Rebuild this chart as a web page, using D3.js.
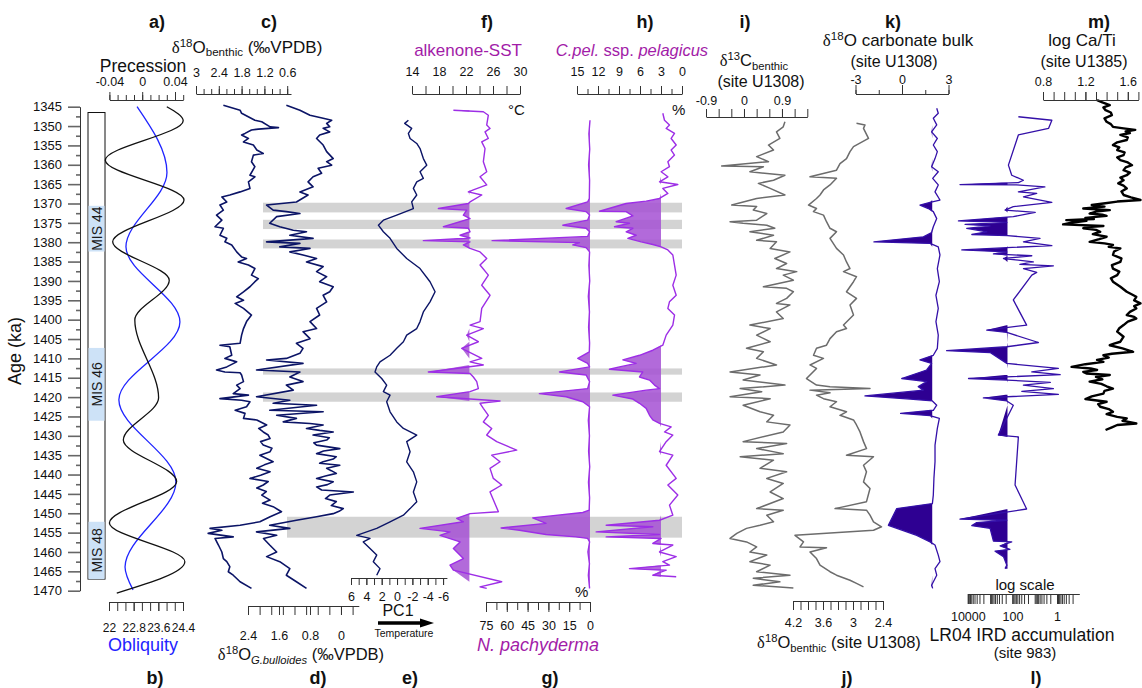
<!DOCTYPE html>
<html>
<head>
<meta charset="utf-8">
<script src="https://cdn.jsdelivr.net/npm/d3@7"></script>
<style>
  body { margin: 0; background: #fff; }
  svg { display: block; }
  text { font-family: "Liberation Sans", Arial, sans-serif; }
</style>
</head>
<body>
<svg id="chart" width="1142" height="688"></svg>
<script>
// ---------- records: [age (ka), value] ----------
const precession = [[1345,0.030],[1348.6,0.050],[1358.8,-0.045],[1369.1,0.051],[1379.9,-0.036],[1389.8,0.033],[1400.1,-0.009],[1420.2,0.020],[1431.1,-0.023],[1441.8,0.042],[1452.5,-0.040],[1462.5,0.052],[1470.6,-0.031]];
const obliquity = [[1345,22.91],[1362.0,23.88],[1381.2,22.55],[1400.6,24.30],[1420.7,22.32],[1441.9,24.17],[1463.9,22.52],[1469.8,22.78]];

const benthicD18O = [[1344.6,2.28],[1345.9,1.84],[1346.7,1.80],[1348.5,1.45],[1348.9,1.27],[1350.2,1.05],[1350.4,0.83],[1350.6,1.10],[1350.8,1.36],[1351.0,1.54],[1351.9,1.71],[1352.3,1.80],[1353.2,1.62],[1354.1,1.75],[1354.9,1.49],[1356.2,1.40],[1357.1,1.23],[1357.5,1.49],[1359.2,1.54],[1360.5,1.45],[1362.7,1.58],[1363.1,1.45],[1364.4,1.62],[1366.1,1.58],[1367.0,1.84],[1367.8,2.11],[1368.3,2.32],[1369.6,2.19],[1370.4,2.37],[1371.7,2.28],[1373.0,2.46],[1374.3,2.32],[1376.0,2.50],[1376.4,2.28],[1378.2,2.37],[1379.0,2.19],[1379.9,2.24],[1380.7,2.06],[1382.5,1.93],[1383.8,1.80],[1384.2,1.67],[1385.1,1.89],[1385.9,1.62],[1386.8,1.45],[1388.5,1.54],[1389.4,1.36],[1390.2,1.45],[1391.5,1.58],[1392.8,1.75],[1394.1,1.93],[1395.0,1.75],[1395.8,1.97],[1397.1,1.75],[1398.8,1.54],[1400.5,1.67],[1402.3,1.75],[1404.0,1.80],[1406.1,1.84],[1406.6,2.37],[1407.0,2.11],[1409.2,2.06],[1410.0,2.24],[1410.9,1.93],[1412.2,2.19],[1413.0,2.46],[1413.5,2.24],[1413.7,1.84],[1414.3,1.80],[1416.0,1.75],[1416.9,1.93],[1417.8,1.84],[1419.1,2.02],[1419.5,1.62],[1420.4,2.37],[1420.8,1.80],[1421.2,1.58],[1422.5,1.67],[1423.4,1.97],[1424.2,1.71],[1425.5,1.75],[1425.9,1.40],[1427.2,1.14],[1428.1,1.35],[1429.0,1.23],[1429.8,1.10],[1430.7,1.05],[1431.5,1.30],[1432.4,1.23],[1433.2,1.00],[1434.1,1.05],[1435.0,1.32],[1436.7,0.97],[1437.5,1.20],[1438.4,1.40],[1439.3,1.05],[1440.2,1.30],[1441.0,1.58],[1441.8,1.10],[1442.7,1.23],[1443.5,1.40],[1444.4,1.15],[1445.3,1.27],[1446.6,1.05],[1447.4,1.25],[1448.3,0.97],[1449.6,0.75],[1450.9,1.05],[1452.2,1.32],[1453.1,1.84],[1453.9,2.63],[1454.4,2.32],[1455.2,2.68],[1456.1,2.02],[1456.5,2.50],[1458.2,2.41],[1460.0,2.32],[1461.7,2.28],[1462.5,2.19],[1463.8,2.11],[1465.1,2.15],[1466.0,2.02],[1467.7,1.84],[1469.4,1.54]];

const bulloidesD18O = [[1344.6,1.41],[1345.9,1.06],[1347.2,0.80],[1348.0,0.46],[1348.5,0.24],[1349.3,0.37],[1350.2,0.29],[1350.6,0.46],[1351.5,0.29],[1352.3,0.55],[1353.2,0.63],[1354.9,0.46],[1356.6,0.37],[1358.4,0.20],[1359.2,0.37],[1360.1,0.24],[1360.9,0.59],[1362.2,0.50],[1363.1,0.72],[1364.4,0.85],[1365.7,0.72],[1367.0,1.06],[1367.8,0.85],[1369.6,1.15],[1370.4,1.92],[1371.7,1.75],[1372.1,1.41],[1372.6,1.06],[1373.4,1.66],[1375.1,1.84],[1376.0,1.58],[1376.9,1.23],[1377.3,0.89],[1378.2,1.32],[1379.0,0.72],[1379.9,1.92],[1380.3,1.06],[1381.2,1.58],[1381.6,0.80],[1382.5,1.32],[1383.3,0.98],[1384.2,0.63],[1385.1,0.89],[1386.3,0.46],[1387.6,0.63],[1388.9,0.37],[1390.2,0.55],[1391.5,0.20],[1392.8,0.29],[1393.7,0.46],[1395.4,0.37],[1397.1,0.63],[1398.8,0.55],[1400.5,0.80],[1402.3,0.63],[1403.1,0.98],[1404.9,0.80],[1406.1,1.15],[1407.4,0.98],[1408.7,1.06],[1410.0,1.41],[1410.4,1.92],[1411.3,0.98],[1413.0,2.18],[1413.5,1.06],[1414.8,1.32],[1416.0,0.98],[1416.9,1.41],[1418.2,1.23],[1419.9,2.18],[1420.8,1.32],[1421.6,1.75],[1422.1,0.63],[1423.4,1.84],[1423.8,0.46],[1424.7,1.66],[1425.5,1.15],[1426.4,1.49],[1426.8,0.80],[1427.2,0.46],[1428.1,0.89],[1428.6,0.55],[1429.0,0.20],[1429.8,0.72],[1430.5,0.30],[1431.1,0.37],[1431.8,0.70],[1432.4,0.63],[1433.3,0.03],[1433.9,0.45],[1434.6,0.63],[1435.4,0.12],[1436.0,0.20],[1436.7,0.46],[1437.1,0.55],[1437.6,0.03],[1438.4,0.37],[1439.0,0.25],[1439.7,0.12],[1440.4,0.40],[1441.0,0.63],[1441.9,0.20],[1442.6,0.35],[1443.2,0.63],[1444.0,0.50],[1444.5,-0.32],[1445.3,0.29],[1446.2,0.40],[1447.0,0.12],[1448.0,0.25],[1448.8,-0.06],[1449.5,0.05],[1450.1,0.20],[1450.9,0.63],[1451.8,1.15],[1453.1,1.84],[1453.9,1.32],[1454.8,2.18],[1455.7,1.66],[1456.5,2.00],[1458.2,1.84],[1460.0,1.66],[1461.2,1.92],[1462.5,1.58],[1464.3,1.32],[1466.0,1.41],[1467.7,1.15],[1469.4,0.89]];

const pc1 = [[1348.5,-1.48],[1349.3,-1.00],[1350.6,-1.91],[1351.9,-1.48],[1353.2,-1.70],[1354.5,-2.57],[1355.8,-3.00],[1358.4,-3.43],[1360.1,-3.87],[1361.8,-3.00],[1363.5,-3.43],[1364.4,-2.57],[1366.1,-2.13],[1367.8,-2.57],[1369.6,-1.91],[1371.3,-2.13],[1373.0,0.04],[1374.3,1.78],[1375.6,2.43],[1377.3,1.78],[1379.0,0.91],[1381.6,0.04],[1384.2,-1.26],[1386.8,-3.00],[1390.2,-4.30],[1392.8,-4.96],[1395.4,-4.30],[1398.0,-3.43],[1400.5,-3.00],[1402.3,-2.57],[1404.0,-1.26],[1405.7,-0.83],[1407.4,0.04],[1409.2,0.91],[1410.9,2.22],[1412.2,2.65],[1413.5,2.87],[1415.2,2.00],[1416.9,1.35],[1418.6,1.78],[1419.5,0.91],[1421.2,1.35],[1423.8,0.91],[1426.4,0.04],[1428.1,-0.83],[1429.8,-2.57],[1431.5,-1.26],[1434.1,-1.70],[1436.7,-1.26],[1439.3,-2.13],[1441.9,-2.57],[1444.5,-2.13],[1447.0,-2.57],[1448.8,-1.70],[1450.5,-0.83],[1452.2,0.91],[1453.9,2.65],[1455.7,5.26],[1456.5,3.52],[1457.4,4.40],[1459.1,3.52],[1460.8,2.65],[1462.5,3.09],[1464.3,2.22],[1466.0,2.65]];

const alkenoneSST = [[1345.9,20.13],[1346.3,24.57],[1347.2,25.31],[1349.7,25.07],[1350.6,25.56],[1351.5,24.82],[1353.2,25.31],[1354.1,24.33],[1355.8,24.82],[1359.2,24.57],[1361.8,25.07],[1363.1,24.08],[1365.2,25.07],[1366.5,23.09],[1367.0,22.35],[1367.8,24.33],[1369.6,22.60],[1370.0,22.35],[1371.3,17.91],[1371.7,22.10],[1373.0,21.61],[1373.9,22.60],[1376.0,18.65],[1376.4,22.35],[1377.3,22.60],[1378.2,21.12],[1378.9,22.60],[1379.6,15.68],[1379.9,22.60],[1380.7,21.61],[1381.6,22.60],[1382.5,24.08],[1384.2,25.07],[1385.9,24.08],[1388.5,25.31],[1391.1,24.33],[1393.7,25.56],[1397.1,24.33],[1400.5,24.08],[1401.4,22.60],[1402.3,24.57],[1404.0,22.10],[1405.7,23.83],[1407.4,21.36],[1410.0,24.33],[1410.9,22.60],[1411.7,24.57],[1413.5,16.42],[1413.9,22.60],[1414.8,23.09],[1416.0,23.59],[1417.8,23.83],[1418.6,22.60],[1419.9,17.66],[1421.0,27.04],[1421.6,24.08],[1422.9,24.57],[1424.7,25.31],[1426.4,24.57],[1428.1,25.81],[1429.8,25.07],[1431.5,26.55],[1433.7,29.51],[1435.0,25.81],[1436.7,27.04],[1438.4,25.56],[1441.0,26.05],[1442.7,27.29],[1444.5,25.56],[1449.6,26.80],[1450.1,22.60],[1451.3,20.62],[1452.2,21.61],[1453.9,15.19],[1454.8,19.63],[1455.7,18.15],[1457.4,21.12],[1459.1,20.13],[1461.7,21.61],[1463.4,19.63],[1464.7,20.13],[1467.7,27.29],[1469.0,24.08],[1469.4,25.07]];

const pachyderma = [[1348.5,0],[1352,0.8],[1356,0.2],[1360,1.0],[1364,0.3],[1368.7,0.5],[1369.6,1.7],[1371.3,17.2],[1372.1,2.8],[1373.0,0.3],[1374.3,1.7],[1375.6,19.6],[1376.4,2.8],[1377.3,0.3],[1378.5,1.7],[1379.6,70.6],[1380.1,7.6],[1380.7,12.4],[1381.4,2.8],[1382.5,0.3],[1386,0.8],[1390,0.2],[1394,1.2],[1398,0.4],[1402,1.0],[1406,0.3],[1408.3,0.5],[1410.0,8.8],[1411.3,1.7],[1412.2,0.3],[1413.5,22.0],[1414.3,2.8],[1416.0,0.3],[1417.8,1.7],[1419.1,36.5],[1419.9,17.2],[1421.2,5.2],[1422.5,0.3],[1426,1.2],[1430,0.4],[1434,1.0],[1438,0.2],[1442,1.1],[1446,0.3],[1449.2,0.6],[1449.8,5.2],[1451.2,41.3],[1452.6,31.7],[1453.8,64.1],[1454.4,50.9],[1455.5,31.7],[1456.1,10.1],[1456.5,1.7],[1457.4,0.3],[1460,1.5],[1463,0.4],[1466,1.2],[1469.4,0.3]];

const pelagicus = [[1346.7,2.74],[1348.5,2.50],[1349.7,1.79],[1350.6,2.26],[1351.9,1.07],[1353.2,1.55],[1354.9,0.83],[1356.2,1.55],[1357.5,1.07],[1359.2,2.02],[1360.5,1.79],[1361.8,2.98],[1363.1,2.02],[1364.4,3.21],[1365.1,0.60],[1366.1,2.74],[1367.4,2.02],[1368.7,3.21],[1369.4,5.12],[1370.0,7.98],[1372.0,11.79],[1372.1,7.98],[1373.2,7.02],[1374.7,9.40],[1375.1,7.50],[1376.0,9.64],[1376.4,7.02],[1377.3,7.98],[1378.2,6.55],[1379.0,7.74],[1379.9,5.83],[1380.6,4.17],[1381.2,2.98],[1382.0,2.02],[1383.3,1.31],[1385.9,1.07],[1388.5,0.83],[1391.1,1.31],[1393.7,0.83],[1395.4,1.79],[1397.1,2.02],[1398.8,1.07],[1401.4,1.31],[1404.0,2.26],[1406.6,2.74],[1407.9,4.17],[1409.2,6.07],[1410.4,8.45],[1411.3,6.55],[1412.2,8.93],[1412.8,10.36],[1413.5,5.60],[1414.8,6.07],[1415.6,4.64],[1416.9,3.93],[1417.8,3.21],[1418.2,5.12],[1419.5,9.88],[1420.5,7.02],[1421.6,6.07],[1422.9,5.12],[1424.7,4.64],[1425.9,4.17],[1426.8,3.21],[1427.7,1.55],[1429.0,2.50],[1429.8,1.31],[1431.5,2.26],[1434.1,3.21],[1435.0,1.31],[1437.6,2.26],[1441.0,0.83],[1442.7,2.02],[1445.3,0.60],[1447.9,1.79],[1450.5,1.31],[1451.8,3.21],[1453.1,10.83],[1453.5,4.17],[1454.8,12.26],[1455.5,3.21],[1456.1,10.83],[1456.5,2.98],[1457.8,4.17],[1458.2,1.31],[1460.0,3.21],[1461.2,0.83],[1462.5,2.74],[1463.4,1.79],[1464.3,7.50],[1464.7,2.26],[1466.0,4.17],[1466.4,0.83]];

const benthicD13C_U1308 = [[1348.9,0.97],[1350.2,0.93],[1351.5,0.77],[1353.2,0.85],[1354.9,0.58],[1356.2,0.70],[1357.9,0.30],[1359.2,0.58],[1360.3,-0.53],[1360.5,0.46],[1361.8,0.14],[1362.7,0.97],[1364.0,0.70],[1364.8,0.34],[1366.1,0.62],[1367.8,0.97],[1368.7,0.30],[1370.4,-0.29],[1370.8,0.30],[1371.7,0.22],[1372.6,0.54],[1374.3,0.30],[1374.7,-0.33],[1375.1,-0.02],[1375.6,0.54],[1376.4,0.73],[1377.3,0.14],[1378.2,0.70],[1379.5,0.30],[1379.9,0.77],[1381.6,0.62],[1382.5,1.09],[1384.2,0.73],[1385.5,1.01],[1386.8,0.77],[1387.6,1.25],[1388.5,0.93],[1389.8,1.17],[1391.5,0.46],[1391.9,1.01],[1392.8,1.17],[1394.5,1.01],[1395.8,0.77],[1396.2,1.09],[1398.0,0.77],[1399.7,0.93],[1401.4,0.14],[1402.3,0.62],[1404.0,0.30],[1405.7,0.62],[1407.4,0.06],[1408.3,0.46],[1410.0,0.30],[1411.7,0.77],[1413.5,-0.33],[1414.3,0.38],[1415.6,-0.02],[1416.9,0.97],[1417.8,-0.09],[1418.6,0.42],[1419.9,-0.33],[1420.4,0.62],[1422.1,-0.02],[1423.8,0.38],[1424.7,0.70],[1426.4,0.54],[1427.2,1.09],[1429.0,0.93],[1431.5,-0.02],[1432.0,1.01],[1433.3,0.30],[1434.6,0.93],[1435.4,-0.09],[1436.3,0.70],[1438.4,0.38],[1439.3,1.01],[1441.0,0.54],[1442.3,0.93],[1444.5,0.62],[1446.2,0.93],[1448.8,0.30],[1449.2,0.93],[1450.5,0.54],[1452.2,0.70],[1453.1,0.38],[1453.9,0.06],[1455.2,-0.17],[1456.5,-0.33],[1457.4,0.06],[1458.7,0.30],[1460.0,0.14],[1460.8,0.54],[1462.5,0.14],[1463.4,0.62],[1465.1,0.30],[1466.0,1.09],[1466.8,0.22],[1467.7,0.85],[1468.6,0.22],[1469.3,1.17]];

const benthicD18O_U1308 = [[1349.3,2.93],[1349.7,2.76],[1350.6,2.79],[1353.2,2.69],[1355.3,2.99],[1356.6,3.06],[1358.4,3.13],[1359.7,3.26],[1361.4,3.33],[1363.1,3.86],[1363.5,3.33],[1365.2,3.46],[1366.5,3.59],[1367.8,3.66],[1368.7,3.73],[1370.4,3.89],[1371.3,3.73],[1372.1,3.79],[1373.0,3.59],[1374.7,3.53],[1376.4,3.46],[1377.3,3.33],[1379.0,3.46],[1381.6,3.33],[1383.3,3.19],[1385.1,3.13],[1386.8,3.06],[1387.6,3.19],[1388.9,2.93],[1390.2,2.99],[1392.8,3.13],[1394.5,2.93],[1396.2,3.06],[1398.8,2.99],[1401.4,3.19],[1402.3,3.13],[1403.1,3.33],[1404.9,3.46],[1406.6,3.53],[1407.4,3.73],[1409.2,3.79],[1410.0,3.59],[1411.7,3.86],[1412.6,3.73],[1415.2,3.93],[1416.9,3.73],[1417.3,3.46],[1417.8,2.66],[1418.2,3.86],[1418.9,3.46],[1419.5,3.73],[1420.4,3.59],[1421.2,3.33],[1422.5,3.46],[1423.8,3.13],[1424.7,3.26],[1425.9,2.99],[1427.2,2.93],[1429.0,2.86],[1431.5,2.79],[1433.3,2.73],[1435.0,3.13],[1435.4,2.59],[1437.6,2.79],[1439.3,2.73],[1441.9,2.79],[1443.6,2.66],[1447.0,2.73],[1448.8,3.36],[1449.2,2.73],[1450.5,2.66],[1452.2,2.59],[1453.5,2.43],[1454.4,2.59],[1455.7,4.16],[1457.4,3.99],[1458.7,4.06],[1458.9,3.53],[1460.0,3.86],[1461.7,3.73],[1463.4,3.66],[1465.1,3.46],[1466.0,3.33],[1467.3,3.06],[1468.1,2.93],[1469.0,2.79]];

const bulkD18O_U1308 = [[1345.4,2.24],[1346.7,2.34],[1348.0,2.02],[1349.7,2.24],[1351.5,1.91],[1353.2,2.28],[1354.9,2.02],[1356.6,2.28],[1358.4,2.13],[1360.5,1.91],[1361.8,2.34],[1363.5,1.98],[1365.2,2.34],[1367.0,2.13],[1369.1,2.45],[1369.7,1.81],[1370.4,1.16],[1371.3,1.70],[1372.1,2.02],[1373.9,2.24],[1376.0,2.02],[1377.5,1.91],[1378.6,1.38],[1379.9,-1.81],[1380.3,1.81],[1381.2,2.34],[1383.3,2.45],[1386.8,2.28],[1390.2,2.41],[1393.7,2.19],[1397.1,2.34],[1400.5,2.19],[1404.0,2.34],[1407.4,2.28],[1409.2,2.02],[1410.4,1.16],[1411.3,1.91],[1413.0,1.59],[1415.2,-0.02],[1416.0,1.59],[1417.3,1.05],[1418.2,1.38],[1419.7,-2.39],[1420.5,0.52],[1421.0,1.96],[1422.1,2.24],[1423.4,2.02],[1424.2,-0.09],[1424.8,1.81],[1425.5,2.41],[1428.1,2.28],[1432.4,2.13],[1436.7,2.13],[1441.0,2.06],[1445.3,2.02],[1447.5,1.96],[1448.8,-0.34],[1453.1,-0.88],[1455.7,0.95],[1457.4,1.81],[1458.2,2.13],[1460.8,2.34],[1462.5,2.45],[1464.3,2.13],[1466.0,2.24],[1468.6,1.91],[1469.4,1.98]];

const irdAccumulation = [[1347.6,54],[1348.5,1.7],[1350.6,2.4],[1352.3,54],[1360.1,151],[1362.7,107],[1364.0,32],[1364.6,54],[1365.1,22400],[1365.2,65],[1365.7,3.5],[1367.0,54],[1367.4,8.1],[1368.3,32],[1369.7,1.7],[1370.8,91],[1371.7,214],[1372.3,9.5],[1373.4,91],[1374.5,26300],[1374.9,178],[1375.4,13200],[1375.8,1000],[1376.4,11200],[1377.3,1410],[1378.0,6600],[1378.3,166],[1379.0,5.8],[1379.9,32],[1380.9,1.7],[1381.4,178],[1382.0,18600],[1382.5,178],[1383.0,708],[1383.5,13.5],[1384.2,251],[1385.1,11.5],[1385.7,46],[1386.1,1.45],[1386.8,32],[1387.8,8.1],[1388.5,13.5],[1394.9,91],[1401.4,23],[1402.7,1410],[1403.3,178],[1405.9,6.8],[1407.0,178],[1408.0,89000],[1408.5,1000],[1411.3,178],[1412.6,0.87],[1413.5,13.5],[1414.2,0.72],[1415.2,9300],[1415.6,178],[1416.2,2.0],[1416.9,32],[1417.8,1.45],[1418.5,38],[1419.3,0.87],[1420.2,2000],[1421.0,178],[1422.1,91],[1429.8,427],[1430.3,54],[1442.7,76],[1448.9,23],[1451.5,22400],[1451.8,178],[1452.4,4000],[1453.2,6600],[1453.9,1000],[1457.2,708],[1457.4,107],[1458.4,355],[1459.3,129],[1459.8,600],[1461.2,251],[1463.4,178],[1464.3,214]];

const logCaTi_U1385 = [[1343.3,1.31],[1343.9,1.36],[1344.6,1.43],[1345.2,1.37],[1345.9,1.39],[1346.5,1.44],[1347.2,1.45],[1348.0,1.38],[1348.9,1.40],[1349.5,1.44],[1350.2,1.46],[1350.6,1.56],[1351.0,1.67],[1351.4,1.58],[1351.8,1.62],[1352.3,1.53],[1352.9,1.60],[1353.6,1.59],[1354.2,1.50],[1354.9,1.46],[1355.5,1.52],[1356.2,1.50],[1356.8,1.57],[1357.5,1.56],[1358.1,1.50],[1358.8,1.53],[1359.4,1.60],[1360.1,1.64],[1360.7,1.58],[1361.4,1.56],[1362.0,1.62],[1362.7,1.59],[1363.3,1.53],[1364.0,1.56],[1364.8,1.51],[1365.4,1.56],[1366.1,1.59],[1366.9,1.54],[1367.8,1.56],[1368.4,1.63],[1369.1,1.72],[1369.5,1.50],[1370.0,1.37],[1370.4,1.26],[1370.8,1.38],[1371.3,1.18],[1371.7,1.43],[1372.1,1.30],[1372.6,1.24],[1372.9,1.36],[1373.2,1.40],[1373.7,1.20],[1374.0,1.28],[1374.3,1.02],[1374.5,1.21],[1374.9,1.08],[1375.4,0.99],[1375.8,1.37],[1376.1,1.22],[1376.4,1.18],[1376.8,1.30],[1377.3,1.34],[1377.9,1.27],[1378.6,1.40],[1379.2,1.33],[1379.9,1.24],[1380.3,1.38],[1380.7,1.46],[1381.2,1.42],[1381.6,1.53],[1382.4,1.47],[1383.3,1.46],[1384.2,1.54],[1385.1,1.53],[1385.9,1.45],[1386.8,1.46],[1387.6,1.52],[1388.5,1.50],[1389.3,1.44],[1390.2,1.46],[1391.5,1.53],[1392.8,1.59],[1393.5,1.64],[1394.1,1.68],[1395.0,1.66],[1395.8,1.72],[1396.5,1.66],[1397.1,1.68],[1398.0,1.62],[1398.8,1.59],[1399.3,1.66],[1399.7,1.68],[1400.5,1.60],[1401.4,1.56],[1402.2,1.52],[1403.1,1.50],[1404.4,1.56],[1405.7,1.53],[1406.2,1.47],[1406.6,1.43],[1407.4,1.55],[1408.3,1.65],[1408.8,1.45],[1409.2,1.37],[1409.8,1.42],[1410.4,1.31],[1410.9,1.37],[1411.5,1.20],[1412.2,1.07],[1412.6,1.25],[1413.0,1.31],[1413.5,1.18],[1413.9,1.21],[1414.3,1.43],[1414.8,1.30],[1415.4,1.36],[1416.0,1.24],[1416.6,1.35],[1417.2,1.40],[1417.8,1.46],[1418.4,1.38],[1419.1,1.37],[1419.8,1.26],[1420.5,1.20],[1421.2,1.40],[1421.8,1.32],[1422.5,1.34],[1423.1,1.42],[1423.8,1.46],[1424.4,1.40],[1425.1,1.50],[1425.5,1.59],[1426.1,1.55],[1426.8,1.68],[1427.2,1.50],[1427.8,1.45],[1428.5,1.39]];

// Shaded intervals [start, end] (ka) and marine isotope stages
const coldEvents = [[1369.8,1372.3],[1374.2,1376.6],[1379.3,1381.6],[1412.6,1414.2],[1418.8,1421.2],[1450.9,1456.3]];
const misStages = [["MIS 44",1370.6,1382.4],["MIS 46",1407.3,1426.1],["MIS 48",1452.2,1467.0]];

// Tick values
const ageMajor = [1345,1350,1355,1360,1365,1370,1375,1380,1385,1390,1395,1400,1405,1410,1415,1420,1425,1430,1435,1440,1445,1450,1455,1460,1465,1470];
const ageMinor = [1347.5,1352.5,1357.5,1362.5,1367.5,1372.5,1377.5,1382.5,1387.5,1392.5,1397.5,1402.5,1407.5,1412.5,1417.5,1422.5,1427.5,1432.5,1437.5,1442.5,1447.5,1452.5,1457.5,1462.5,1467.5];
const precTicks = [-0.04,-0.03,-0.02,-0.01,0,0.01,0.02,0.03,0.04,0.05];
const precLabels = [-0.04,0,0.04];
const oblTicks = [22,22.267,22.533,22.8,23.067,23.333,23.6,23.867,24.133,24.4];
const oblLabels = [22,22.8,23.6,24.4];
const cTicks = [3,2.8,2.6,2.4,2.2,2,1.8,1.6,1.4,1.2,1,0.8,0.6];
const cLabels = [3,2.4,1.8,1.2,0.6];
const dTicks = [2.4,2.1,1.8,1.5,1.2,0.9,0.6,0.3,0,-0.3];
const dLabels = [2.4,1.6,0.8,0];
const eTicks = [6,5,4,3,2,1,0,-1,-2,-3,-4,-5,-6];
const eLabels = [6,4,2,0,-2,-4,-6];
const fTicks = [14,16,18,20,22,24,26,28,30];
const fLabels = [14,18,22,26,30];
const gTicks = [75,67.5,60,52.5,45,37.5,30,22.5,15,7.5,0];
const gLabels = [75,60,45,30,15,0];
const hTicks = [15,13.5,12,10.5,9,7.5,6,4.5,3,1.5,0];
const hLabels = [15,12,9,6,3,0];
const iTicks = [-0.9,-0.6,-0.3,0,0.3,0.6,0.9,1.2,1.5];
const iLabels = [-0.9,0,0.9];
const jTicks = [4.2,4.05,3.9,3.75,3.6,3.45,3.3,3.15,3,2.85,2.7,2.55,2.4];
const jLabels = [4.2,3.6,3,2.4];
const kTicks = [-3,-1.5,0,1.5,3];
const kLabels = [-3,0,3];
const lTicks = [0.2,0.3,0.4,0.5,0.6,0.7,0.8,0.9,1,2,3,4,5,6,7,8,9,10,20,30,40,50,60,70,80,90,100,200,300,400,500,600,700,800,900,1000,2000,3000,4000,5000,6000,7000,8000,9000,10000];
const lLabels = [10000,100,1];
const mTicks = [0.8,0.9,1.0,1.1,1.2,1.3,1.4,1.5,1.6,1.7];
const mLabels = [0.8,1.2,1.6];

// ---------- scales ----------
const svg = d3.select("#chart");
const y = d3.scaleLinear().domain([1345, 1470]).range([106.7, 590.7]);
const xPrec = d3.scaleLinear().domain([-0.04, 0.05]).range([109.4, 183.2]);
const xObl = d3.scaleLinear().domain([22, 24.4]).range([109, 183]);
const xC = d3.scaleLinear().domain([3, 0.5]).range([196, 291]);
const xD = d3.scaleLinear().domain([2.4, -0.46]).range([248, 358.8]);
const xE = d3.scaleLinear().domain([6, -6.5]).range([351, 446.9]);
const xF = d3.scaleLinear().domain([14, 30]).range([412, 520]);
const xG = d3.scaleLinear().domain([75, 0]).range([486, 590]);
const xH = d3.scaleLinear().domain([15, 0]).range([577, 682]);
const xI = d3.scaleLinear().domain([-0.9, 1.5]).range([706, 807.3]);
const xJ = d3.scaleLinear().domain([4.2, 2.4]).range([793, 883]);
const xK = d3.scaleLinear().domain([-3, 3]).range([855.5, 948.5]);
const xL = d3.scaleLog().domain([0.1, 1e4]).range([1079.3, 967.8]);
const xM = d3.scaleLinear().domain([0.8, 1.7]).range([1043, 1138.4]);

const NAVY = "#0b1466", PURPLE = "#9d2ee6", PURPLE_TXT = "#a21ca8", PFILL = "#a450d4",
      GREY = "#6c6c6c", INDIGO = "#3410a8", IFILL = "#2e0092", BAND = "#d3d3d3", MISBLUE = "#cde2f7";

// ---------- helpers ----------
const fmt = d => String(d);
function drawAxis(orient, scale, pos, ticks, labels, o) {
  const make = {top: d3.axisTop, bottom: d3.axisBottom, left: d3.axisLeft}[orient];
  const tr = orient === "left" ? `translate(${pos},0)` : `translate(0,${pos})`;
  const g1 = svg.append("g").attr("transform", tr)
    .call(make(scale).tickValues(ticks).tickSize(o.minor).tickSizeOuter(0).tickFormat(""));
  const g2 = svg.append("g").attr("transform", tr)
    .call(make(scale).tickValues(labels).tickSize(o.major).tickSizeOuter(0).tickFormat(o.format || fmt));
  g2.select(".domain").remove();
  [g1, g2].forEach(g => {
    g.selectAll("line").attr("stroke", o.tickColor || "#333").attr("stroke-width", o.tickWidth || 1);
    g.select(".domain").attr("stroke", "#333").attr("stroke-width", 1);
  });
  g2.attr("font-family", '"Liberation Sans", Arial, sans-serif').attr("font-size", o.fontSize || 12.5);
  const t = g2.selectAll("text").attr("fill", "#111");
  if (orient === "left") t.attr("x", o.labelOffset);
  else t.attr("y", o.labelOffset).attr("dy", 0);
}

function rich(x, yb, parts, o = {}) {
  const size = o.size || 16.5;
  const t = svg.append("text").attr("x", x).attr("y", yb)
    .attr("text-anchor", o.anchor || "middle").attr("font-size", size)
    .attr("fill", o.color || "#111");
  if (o.italic) t.attr("font-style", "italic");
  let shift = 0;
  parts.forEach(p => {
    if (typeof p === "string") p = {t: p};
    const target = p.sup ? -0.36 * size : p.sub ? (o.subShift || 0.24) * size : 0;
    const ts = t.append("tspan").text(p.t).attr("dy", target - shift);
    shift = target;
    if (p.sup || p.sub) ts.attr("font-size", size * 0.68);
    if (p.italic) ts.attr("font-style", "italic");
    if (p.serif) ts.attr("font-family", '"Liberation Serif", "DejaVu Serif", serif');
  });
  return t;
}
const delta = {t: "δ", serif: true};

function seriesLine(data, xs, color, width, curve) {
  const gen = d3.line().x(d => xs(d[1])).y(d => y(d[0]));
  if (curve) gen.curve(curve);
  svg.append("path").datum(data).attr("d", gen).attr("fill", "none")
    .attr("stroke", color).attr("stroke-width", width).attr("stroke-linejoin", "round");
}
function seriesFill(data, xs, base, side, color, opacity) {
  const clamp = side === "low" ? v => Math.min(v, base) : v => Math.max(v, base);
  const gen = d3.area().y(d => y(d[0])).x0(xs(base)).x1(d => xs(clamp(d[1])));
  svg.append("path").datum(data).attr("d", gen).attr("fill", color).attr("fill-opacity", opacity);
}

// ---------- shaded cold events ----------
svg.append("g").selectAll("rect").data(coldEvents).join("rect")
  .attr("x", (d, i) => i === coldEvents.length - 1 ? 287 : 263)
  .attr("width", (d, i) => 682 - (i === coldEvents.length - 1 ? 287 : 263))
  .attr("y", d => y(d[0])).attr("height", d => y(d[1]) - y(d[0]))
  .attr("fill", BAND);

// ---------- age axis & MIS column ----------
drawAxis("left", y, 80, ageMinor, ageMajor, {minor: 4, major: 12, labelOffset: -18, fontSize: 13, tickColor: "#666", tickWidth: 1.6});
svg.append("text").attr("transform", "translate(21,351) rotate(-90)").attr("text-anchor", "middle")
  .attr("font-size", 18).attr("fill", "#111").text("Age (ka)");

svg.append("rect").attr("x", 88).attr("y", y(1346.5)).attr("width", 17).attr("height", y(1467) - y(1346.5))
  .attr("fill", "#fff").attr("stroke", "#111").attr("stroke-width", 1);
svg.append("g").selectAll("rect").data(misStages).join("rect")
  .attr("x", 88.5).attr("width", 16).attr("y", d => y(d[1])).attr("height", d => y(d[2]) - y(d[1]))
  .attr("fill", MISBLUE);
svg.append("g").selectAll("text").data(misStages).join("text")
  .attr("transform", d => `translate(97,${y((d[1] + d[2]) / 2)}) rotate(-90)`)
  .attr("text-anchor", "middle").attr("dominant-baseline", "central")
  .attr("font-size", 14).attr("fill", "#1a1a1a").text(d => d[0]);

// ---------- orbital curves (a, b) ----------
seriesLine(obliquity, xObl, "#1f24ff", 1.3, d3.curveMonotoneY);
seriesLine(precession, xPrec, "#111", 1.3, d3.curveMonotoneY);

// ---------- fills ----------
seriesFill(alkenoneSST, xF, 22.5, "low", PFILL, 0.85);
seriesFill(pachyderma, xG, 0, "high", PFILL, 0.85);
seriesFill(pelagicus, xH, 3, "high", PFILL, 0.85);
seriesFill(bulkD18O_U1308, xK, 1.95, "low", IFILL, 1);
seriesFill(irdAccumulation, xL, 166, "high", IFILL, 1);

// ---------- lines ----------
seriesLine(benthicD18O, xC, NAVY, 1.6);
seriesLine(bulloidesD18O, xD, NAVY, 1.6);
seriesLine(pc1, xE, NAVY, 1.4);
seriesLine(alkenoneSST, xF, PURPLE, 1.4);
seriesLine(pachyderma, xG, PURPLE, 1.4);
seriesLine(pelagicus, xH, PURPLE, 1.4);
seriesLine(benthicD13C_U1308, xI, GREY, 1.5);
seriesLine(benthicD18O_U1308, xJ, GREY, 1.5);
seriesLine(bulkD18O_U1308, xK, INDIGO, 1.3);
seriesLine(irdAccumulation, xL, INDIGO, 1.3);
seriesLine(logCaTi_U1385, xM, "#000", 2.4);

// ---------- top axes ----------
drawAxis("top", xPrec, 100, precTicks, precLabels, {minor: 5, major: 8, labelOffset: -14});
drawAxis("top", xC, 94, cTicks, cLabels, {minor: 5, major: 8, labelOffset: -17});
drawAxis("top", xF, 94, fTicks, fLabels, {minor: 8, major: 8, labelOffset: -18});
drawAxis("top", xH, 94, hTicks, hLabels, {minor: 5, major: 8, labelOffset: -18});
drawAxis("top", xI, 117, iTicks, iLabels, {minor: 8, major: 8, labelOffset: -12});
drawAxis("top", xK, 94, kTicks, kLabels, {minor: 4, major: 9, labelOffset: -10});
drawAxis("top", xM, 100, mTicks, mLabels, {minor: 8, major: 8, labelOffset: -14});

// ---------- bottom axes ----------
drawAxis("bottom", xObl, 602, oblTicks, oblLabels, {minor: 9, major: 9, labelOffset: 30, fontSize: 12});
drawAxis("bottom", xD, 606, dTicks, dLabels, {minor: 9, major: 9, labelOffset: 34, format: d => d.toFixed(d === 0 ? 0 : 1)});
drawAxis("bottom", xE, 578, eTicks, eLabels, {minor: 7, major: 7, labelOffset: 23});
drawAxis("bottom", xG, 602, gTicks, gLabels, {minor: 8, major: 10, labelOffset: 28});
drawAxis("bottom", xJ, 601, jTicks, jLabels, {minor: 9, major: 9, labelOffset: 26});
drawAxis("bottom", xL, 594, lTicks, lLabels, {minor: 10, major: 10, labelOffset: 27, format: d => String(d)});

// ---------- titles & labels ----------
const letter = (x, yb, s) => svg.append("text").attr("x", x).attr("y", yb).attr("text-anchor", "middle")
  .attr("font-family", "Lato, 'Open Sans', sans-serif").attr("font-weight", 700).attr("font-size", 18)
  .attr("fill", "#111").text(s);
[["a)",157],["c)",269],["f)",487],["h)",645],["i)",745],["k)",893],["m)",1099]].forEach(d => letter(d[1], 28, d[0]));
[["b)",155],["d)",318],["e)",410],["g)",550],["j)",847],["l)",1036]].forEach(d => letter(d[1], 684, d[0]));

rich(143, 72, ["Precession"], {size: 17.5});
rich(247, 53, [delta, {t: "18", sup: true}, "O", {t: "benthic", sub: true}, " (‰VPDB)"], {size: 17, subShift: 0.18});
rich(468, 56, ["alkenone-SST"], {size: 17, color: PURPLE_TXT});
rich(632, 56, [{t: "C.pel.", italic: true}, " ssp. ", {t: "pelagicus", italic: true}], {size: 16.5, color: PURPLE_TXT});
rich(508, 115, ["°C"], {size: 15, anchor: "start"});
rich(672, 115, ["%"], {size: 15, anchor: "start"});
rich(754, 66, [delta, {t: "13", sup: true}, "C", {t: "benthic", sub: true}], {size: 16.5});
rich(761, 87, ["(site U1308)"], {size: 16});
rich(898, 46, [delta, {t: "18", sup: true}, "O carbonate bulk"], {size: 17});
rich(894, 67, ["(site U1308)"], {size: 16});
rich(1082, 46, ["log Ca/Ti"], {size: 17});
rich(1084, 67, ["(site U1385)"], {size: 16});

rich(143, 651, ["Obliquity"], {size: 18, color: "#1f24ff"});
rich(301, 660, [delta, {t: "18", sup: true}, "O", {t: "G.bulloides", sub: true, italic: true}, " (‰VPDB)"], {size: 16.5});
rich(398, 616, ["PC1"], {size: 16});
rich(404, 637, ["Temperature"], {size: 10.5});
svg.append("line").attr("x1", 378).attr("x2", 423).attr("y1", 623).attr("y2", 623)
  .attr("stroke", "#000").attr("stroke-width", 3.5);
svg.append("path").attr("d", "M420,618.5 L434,623 L420,627.5 Z").attr("fill", "#000");
rich(575, 597, ["%"], {size: 15, anchor: "start"});
rich(538, 651, ["N. pachyderma"], {size: 18, color: PURPLE_TXT, italic: true});
rich(839, 648, [delta, {t: "18", sup: true}, "O", {t: "benthic", sub: true}, " (site U1308)"], {size: 16.5});
rich(1025, 590, ["log scale"], {size: 15});
rich(1022, 641, ["LR04 IRD accumulation"], {size: 17.5});
rich(1025, 658, ["(site 983)"], {size: 15});
</script>
</body>
</html>
